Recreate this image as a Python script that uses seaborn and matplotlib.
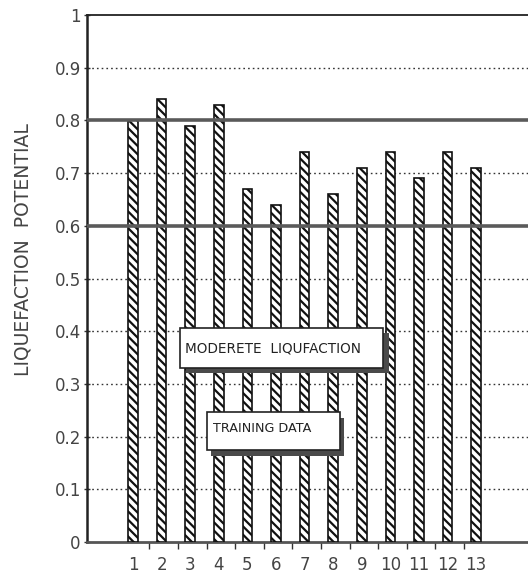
import matplotlib
matplotlib.use("Agg")
import matplotlib.pyplot as plt
import seaborn as sns
import pandas as pd
from matplotlib.patches import Rectangle

# ---- data ----
cases = ["1", "2", "3", "4", "5", "6", "7", "8", "9", "10", "11", "12", "13"]
potential = [0.80, 0.84, 0.79, 0.83, 0.67, 0.64, 0.74, 0.66, 0.71, 0.74, 0.69, 0.74, 0.71]
y_ticks = [0, 0.1, 0.2, 0.3, 0.4, 0.5, 0.6, 0.7, 0.8, 0.9, 1]
y_ticklabels = ["0", "0.1", "0.2", "0.3", "0.4", "0.5", "0.6", "0.7", "0.8", "0.9", "1"]
dotted_levels = [0.1, 0.2, 0.3, 0.4, 0.5, 0.7, 0.9]
band_levels = [0.6, 0.8]
label_moderate = "MODERETE  LIQUFACTION"
label_training = "TRAINING DATA"
y_label = "LIQUEFACTION  POTENTIAL"

df = pd.DataFrame({"case": cases, "potential": potential})

sns.set_theme(style="white")
plt.rcParams["font.family"] = ["DejaVu Sans"]
plt.rcParams["hatch.linewidth"] = 1.6

W, H = 528, 575
fig = plt.figure(figsize=(W / 100, H / 100), dpi=100)
left_px, right_px, top_px, bot_px = 87, 540, 15, 542
ax = fig.add_axes([left_px / W, 1 - bot_px / H, (right_px - left_px) / W, (bot_px - top_px) / H])

sns.barplot(data=df, x="case", y="potential", order=cases, color="white",
            edgecolor="black", linewidth=1.2, width=0.34, ax=ax, zorder=3)
for p in ax.patches:
    p.set_hatch("\\\\\\\\")
    p.set_edgecolor("#111111")

# bar spacing ~28.6 px; first bar at x=133 px
sp = 28.6
ax.set_xlim((left_px - 133) / sp, (right_px - 133) / sp)
ax.set_ylim(0, 1)

for lv in dotted_levels:
    ax.axhline(lv, color="#333333", lw=1.0, ls=(0, (1.2, 2.2)), zorder=1)
for lv in band_levels:
    ax.axhline(lv, color="#5a5a5a", lw=2.6, zorder=5)

ax.set_yticks(y_ticks)
ax.set_yticklabels(y_ticklabels, fontsize=12, color="#444444")
ax.set_xticks(range(len(cases)))
ax.set_xticklabels(cases, fontsize=12, color="#444444")
ax.set_xticks([i + 0.57 for i in range(len(cases) - 1)], minor=True)
ax.tick_params(axis="x", which="major", length=0, pad=10)
ax.tick_params(axis="x", which="minor", length=5, width=1, direction="out", color="#333333", bottom=True)
ax.tick_params(axis="y", which="major", length=5, width=1, direction="inout", color="#333333", left=True, pad=2)
ax.set_xlabel("")
ax.set_ylabel("")

for s in ["left", "top", "bottom"]:
    ax.spines[s].set_visible(True)
    ax.spines[s].set_color("#222222")
ax.spines["left"].set_linewidth(1.8)
ax.spines["top"].set_linewidth(1.3)
ax.spines["bottom"].set_linewidth(2.0)
ax.spines["bottom"].set_color("#555555")
ax.spines["right"].set_visible(False)

fig.text(23 / W, 1 - 250 / H, y_label, rotation=90, ha="center", va="center",
         fontsize=13.5, color="#444444")

def shadow_box(x0, y0, x1, y1, dx, dy, text, tx, ty, fs):
    fig.patches.append(Rectangle((x0 / W + dx / W, 1 - (y1 + dy) / H), (x1 - x0) / W, (y1 - y0) / H,
                                 transform=fig.transFigure, facecolor="#4a4a4a", edgecolor="none", zorder=10))
    fig.patches.append(Rectangle((x0 / W, 1 - y1 / H), (x1 - x0) / W, (y1 - y0) / H,
                                 transform=fig.transFigure, facecolor="white", edgecolor="#222222",
                                 linewidth=1.2, zorder=11))
    fig.text(tx / W, 1 - ty / H, text, ha="left", va="center", fontsize=fs, color="#222222", zorder=12)

shadow_box(180, 328, 383, 368, 6, 5, label_moderate, 185, 348, 9.8)
shadow_box(207, 412, 340, 450, 4, 6, label_training, 213, 429, 9.2)

fig.savefig("out.png", dpi=100)
